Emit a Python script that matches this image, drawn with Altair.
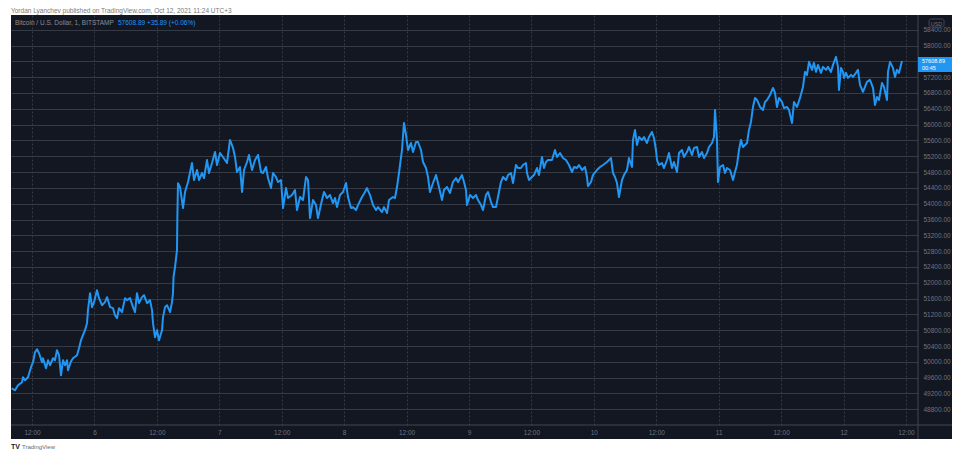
import altair as alt
import pandas as pd

# ---- data (hours since Oct 5 00:00 UTC, BTC/USD price) ----
hours = [
    8.10, 8.73, 9.31, 10.08, 10.27, 10.65, 11.23, 11.81, 12.19, 12.58, 12.96, 13.35, 13.92, 14.11,
    14.69, 15.08, 15.46, 16.04, 16.42, 16.80, 17.19, 17.57, 17.96, 18.34, 18.73, 18.92, 19.50, 19.88,
    20.65, 21.03, 21.42, 21.80, 22.19, 22.57, 22.76, 23.15, 23.53, 23.92, 24.49, 24.88, 25.46, 26.03,
    26.42, 27.01, 27.57, 27.95, 28.34, 28.72, 29.30, 29.88, 30.26, 30.84, 31.41, 31.80, 32.18, 32.57,
    33.14, 33.53, 34.11, 34.68, 35.07, 35.26, 35.64, 36.03, 36.41, 36.99, 37.18, 37.57, 37.95, 38.53,
    38.91, 39.10, 39.20, 39.49, 39.87, 39.93, 40.06,
    40.45, 41.03, 41.41, 41.99, 42.75, 43.14, 43.72, 44.10, 44.68, 45.06, 45.64, 46.02, 46.60, 47.18,
    47.56, 48.14, 48.71, 49.48, 50.06, 50.64, 51.02, 51.40, 51.98, 52.37, 52.75, 53.33, 53.71, 54.29,
    54.87, 55.44, 56.02, 56.40, 56.98, 57.36, 57.94, 58.32, 58.90, 59.29, 59.86, 60.25, 60.82, 61.21,
    61.98, 62.55, 62.94, 63.52, 64.09, 64.67, 65.05, 65.44, 66.01, 66.59, 66.97, 67.74, 68.13, 68.70,
    69.28, 69.86, 70.24, 70.63, 71.20, 71.78, 72.36, 72.74, 73.32, 73.70, 74.28, 74.66, 75.43, 76.01,
    76.39, 76.97, 77.55, 78.12, 78.51, 79.28, 79.66, 80.24, 80.62, 81.39, 81.77,
    82.16, 82.54, 83.12, 83.50, 83.89, 84.27, 84.85, 85.24, 85.81, 86.20, 86.77, 87.16, 87.73, 88.12,
    88.50, 89.08, 89.66, 90.04, 90.81, 91.19, 91.77, 92.35, 92.92, 93.50, 93.89, 94.65, 95.04, 95.42,
    95.61, 96.19, 96.77, 97.35, 97.73, 98.31, 98.69, 99.27, 99.65, 100.23, 100.61, 101.19, 101.57,
    102.15, 102.53, 103.11, 103.50, 104.07, 104.46, 105.03, 105.42, 105.99, 106.38, 106.95, 107.15,
    107.53, 108.11, 108.49, 109.07, 109.45, 110.03, 110.41, 110.80, 111.18, 111.95, 112.53, 112.91,
    113.49, 114.07, 114.64, 115.22, 115.80, 116.18, 116.76, 117.14, 117.72, 118.30, 118.68, 118.87,
    119.45, 119.83, 120.60, 121.18, 121.76, 122.53, 122.91, 123.29,
    123.68, 124.06, 124.45, 124.83, 125.41, 125.79, 126.37, 126.75, 127.33, 127.52, 127.91, 128.29,
    128.68, 129.25, 129.64, 130.21, 130.60, 131.17, 131.56, 131.94, 132.14, 132.52, 133.10, 133.48,
    134.06, 134.44, 135.02, 135.40, 135.98, 136.37, 136.94, 137.33, 137.90, 138.29, 138.86, 139.25,
    139.83, 140.21, 140.79, 141.17, 141.75, 142.13, 142.71, 143.09, 143.29, 143.67, 143.86, 144.25,
    144.83, 145.21, 145.59, 146.17, 146.75, 147.13, 147.51, 147.90, 148.28, 148.67, 149.44, 149.82,
    150.20, 150.59, 150.98, 151.36, 151.94, 152.51, 152.90, 153.28, 153.86, 154.44, 154.82, 155.20,
    155.59, 156.17, 156.55, 157.13, 157.51, 158.09, 158.47,
    159.05, 159.63, 160.20, 160.59, 160.97, 161.36, 161.93, 162.31, 162.70, 163.08, 163.66, 164.05,
    164.62, 165.01, 165.58, 165.97, 166.55, 166.93, 167.12, 167.51, 167.89, 168.08, 168.47, 168.85,
    169.43, 169.81, 170.39, 170.77, 171.16, 171.73, 172.12, 172.50, 173.08, 173.66, 174.04, 174.43,
    174.81, 175.39, 175.77, 176.35, 176.54, 176.93, 177.50, 177.89, 178.27, 178.65, 179.23,
]
prices = [
    49332, 49281, 49408, 49484, 49611, 49535, 49611, 49864, 49990, 50243, 50320, 50218, 49990, 50091,
    49838, 50041, 49914, 50091, 50041, 50294, 50167, 49661, 50041, 49914, 50041, 49788, 50015, 50091,
    50167, 50345, 50548, 50674, 50800, 50978, 51307, 51738, 51383, 51510, 51813, 51611, 51433, 51510,
    51636, 51383, 51358, 51180, 51104, 51358, 51257, 51611, 51560, 51611, 51383, 51257, 51738, 51484,
    51636, 51687, 51484, 51560, 51307, 50978, 50623, 50800, 50547, 50800, 51126, 51383, 51433, 51257,
    51510, 51738, 52142, 52396, 52826, 53586, 54519,
    54421, 53889, 54295, 54548, 55029, 54598, 54852, 54598, 54776, 54649, 55104, 54776, 55029, 55307,
    54978, 55282, 55181, 55029, 55611, 55409, 55181, 54801, 54928, 54295, 54852, 55054, 55232, 54852,
    55105, 55232, 54801, 54776, 54928, 54649, 54396, 54776, 54674, 54548, 54598, 53889, 54396, 54143,
    54219, 54345, 53839, 54168, 54092, 54674, 54598, 53636, 54092, 53965, 53636, 54092, 54295, 54143,
    54219, 54016, 54143, 53914, 54219, 54295, 54523, 54168, 53889, 53914, 53839, 53965, 54168, 54295,
    54396, 54219, 53965, 53839, 53914, 53788, 53914, 53763, 54092, 54168, 54143,
    54421, 54776, 55358, 56042, 55738, 55358, 55535, 55307, 55560, 55560, 55358, 55054, 54902, 54674,
    54295, 54523, 54725, 54523, 54092, 54345, 54421, 54269, 54548, 54649, 54548, 54725, 54548, 54345,
    53965, 54219, 54143, 54219, 54092, 53965, 53839, 54219, 54295, 54042, 53914, 53914, 54168,
    54548, 54674, 54598, 54725, 54776, 54523, 54978, 54902, 54902, 54978, 55029, 54776,
    54598, 54674, 54725, 54902, 54725, 55181, 54902, 55054, 55105, 55105, 55358, 55181,
    55282, 55156, 55105, 54978, 54801, 54928, 54902, 54978, 54852, 54928, 54674, 54446,
    54548, 54725, 54852, 54928, 54978, 55054, 55105, 55156,
    54776, 54674, 54523, 54168, 54598, 54725, 54852, 55156, 54928, 55611, 55865, 55485,
    55687, 55611, 55687, 55535, 55687, 55814, 55662, 55358, 55105, 54978, 55029, 54902,
    55105, 55282, 54902, 55054, 54801, 55282, 55358, 55181, 55307, 55434, 55232, 55409,
    55434, 55181, 55307, 55156, 55282, 55434, 55535, 55687, 56371, 55611, 54548, 54928,
    54978, 54776, 54902, 54852, 54598, 54801, 54978, 55358, 55611, 55434, 55535, 55865,
    56067, 56446, 56675, 56624, 56446, 56371, 56573, 56624, 56751, 56928, 56801, 56446,
    56675, 56573, 56421, 56446, 56371, 56042, 56573,
    56446, 56675, 56953, 57333, 57257, 57587, 57384, 57561, 57333, 57510, 57308, 57460,
    57384, 57460, 57333, 57510, 57713, 57460, 56877, 57434, 57333, 57181, 57308, 57181,
    57257, 57206, 57308, 57384, 57004, 56827, 56953, 57080, 57130, 56928, 56498, 56700,
    56624, 57054, 56953, 56624, 57333, 57587, 57434, 57206, 57384, 57308, 57608.89,
]
time_ticks = [12, 24, 36, 48, 60, 72, 84, 96, 108, 120, 132, 144, 156, 168, 180]
price_ticks = [48800, 49200, 49600, 50000, 50400, 50800, 51200, 51600, 52000, 52400, 52800,
               53200, 53600, 54000, 54400, 54800, 55200, 55600, 56000, 56400, 56800, 57200,
               57600, 58000, 58400]
header_text = "Yordan Lyanchev published on TradingView.com, Oct 12, 2021 11:24 UTC+3"
symbol_text = "Bitcoin / U.S. Dollar, 1, BITSTAMP"
quote_text = "57608.89  +35.89 (+0.06%)"
last_price_text = "57608.89"
countdown_text = "00:45"

BG = "#131722"
GRID = "#363a45"
SEP = "#434651"
LABEL = "#6f7380"
BLUE = "#2196f3"
FONT = "Liberation Sans"
W, H = 907, 410

df = pd.DataFrame({"hour": hours, "price": prices})
one = pd.DataFrame({"k": [0]})


def box(x, x2, y, y2, fill, stroke=None):
    kw = dict(fill=fill)
    if stroke:
        kw.update(stroke=stroke, strokeWidth=1, cornerRadius=2)
    return alt.Chart(one).mark_rect(**kw).encode(
        x=alt.value(x), x2=alt.value(x2), y=alt.value(y), y2=alt.value(y2))


def label(text, x, y, color, size, align="left", baseline="middle", weight="normal"):
    return alt.Chart(one).mark_text(
        text=text, color=color, fontSize=size, align=align, baseline=baseline,
        font=FONT, fontWeight=weight).encode(x=alt.value(x), y=alt.value(y))


line = alt.Chart(df).mark_line(color=BLUE, strokeWidth=2, clip=True, strokeJoin="round").encode(
    x=alt.X("hour:Q",
            scale=alt.Scale(domain=[7.96, 182.31], nice=False, zero=False),
            axis=alt.Axis(values=time_ticks,
                          labelExpr="datum.value % 24 == 0 ? toString(datum.value / 24 + 5) : '12:00'",
                          title=None, grid=True, gridColor=GRID, gridDash=[2, 2], domain=False,
                          ticks=False, labelColor=LABEL, labelFontSize=6.5, labelPadding=4,
                          labelFont=FONT, labelFlush=False, labelOverlap=False)),
    y=alt.Y("price:Q",
            scale=alt.Scale(domain=[48403, 58772], nice=False, zero=False),
            axis=alt.Axis(orient="right", values=price_ticks,
                          labelExpr="datum.value == 57600 ? '' : format(datum.value, '.2f')",
                          title=None, grid=True, gridColor=GRID, domain=False, ticks=False,
                          labelColor=LABEL, labelFontSize=6.5, labelPadding=5, labelFont=FONT,
                          labelFlush=False, labelOverlap=False)),
)

v_sep = alt.Chart(one).mark_rule(color=SEP).encode(
    x=alt.value(W), y=alt.value(0), y2=alt.value(424))
h_sep = alt.Chart(one).mark_rule(color=SEP).encode(
    y=alt.value(H), x=alt.value(0), x2=alt.value(941))

layers = [
    line, v_sep, h_sep,
    box(W, 941, 42, 57, BLUE),
    label(last_price_text, 911, 46, "#ffffff", 5.5),
    label(countdown_text, 911, 53, "#ffffff", 5.5),
    box(918, 933, 4, 12, BG, SEP),
    label("USD", 925.5, 8.5, LABEL, 5.5, align="center"),
    label(symbol_text, 4, 8, "#8a8d98", 6.5),
    label(quote_text, 107, 8, BLUE, 6.5),
    # white page surroundings
    box(-3, 941, -7, 0, "#ffffff"),
    box(-3, 0, -7, 436, "#ffffff"),
    box(-3, 941, 424, 436, "#ffffff"),
    label(header_text, 0, -2, "#7a7a7a", 6.5, baseline="alphabetic"),
    label("TV", 0, 432, "#131722", 7, weight="bold"),
    label("TradingView", 11, 432, "#6a6a6a", 6),
]

chart = alt.layer(*layers).properties(
    width=W, height=H,
    autosize="none",
    padding={"left": 3, "top": 7, "right": 34, "bottom": 26},
    background=BG,
).configure_view(stroke=None)

chart.save("out.html", embed_options={"renderer": "svg", "actions": False})
